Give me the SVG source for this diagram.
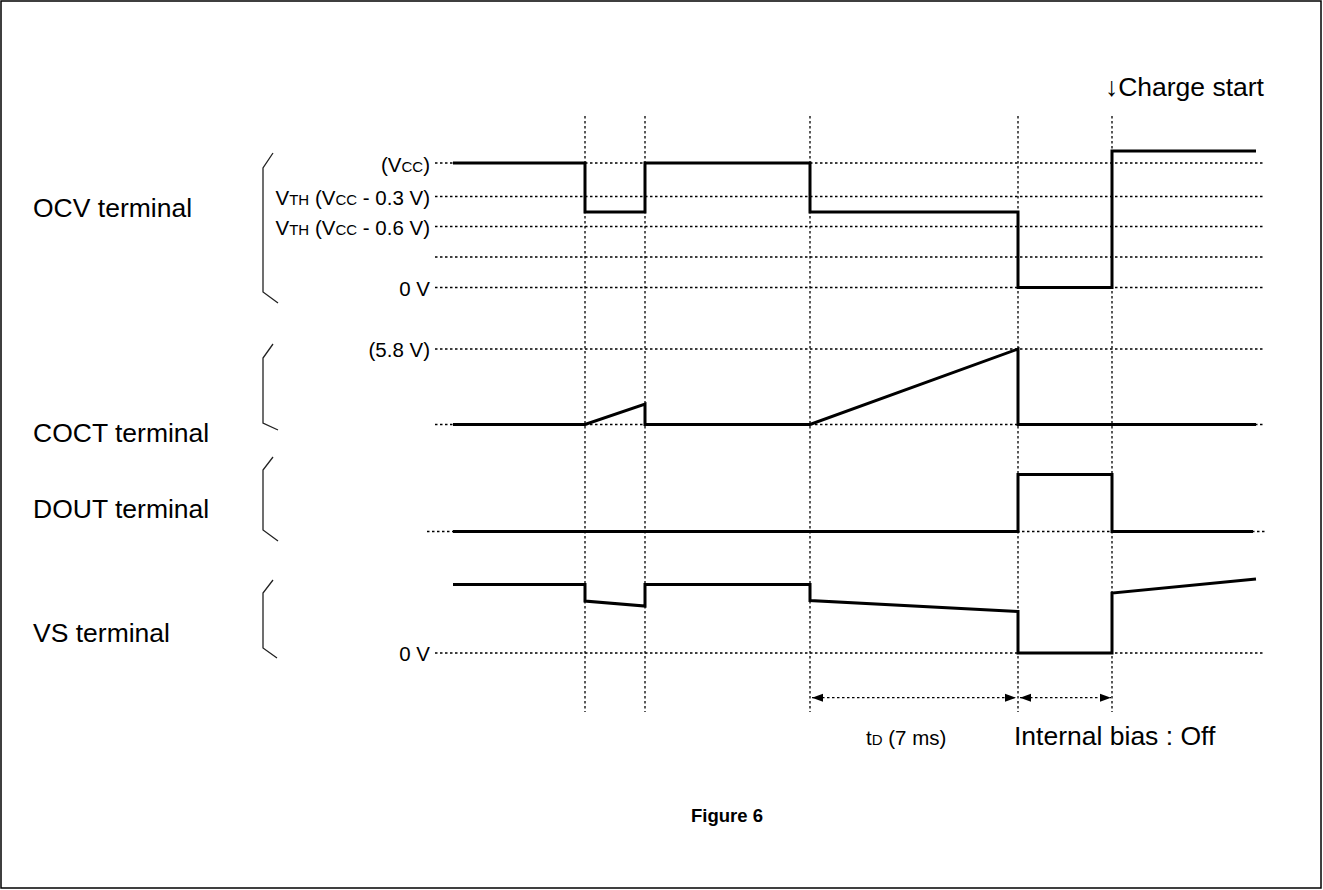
<svg xmlns="http://www.w3.org/2000/svg" width="1323" height="890" viewBox="0 0 1323 890">
<style>
.frame{fill:#fff;stroke:#000;stroke-width:1.5}
.dot{fill:none;stroke:#000;stroke-width:1.3;stroke-dasharray:2.5 2.5}
.wave{fill:none;stroke:#000;stroke-width:3;stroke-linejoin:miter}
.brk{fill:none;stroke:#222;stroke-width:1.3}
.lbl{font-family:"Liberation Sans",Arial,sans-serif;font-size:26.5px;fill:#000}
.sm{font-family:"Liberation Sans",Arial,sans-serif;font-size:20.5px;fill:#000}
.sub{font-size:15px}
.fig{font-family:"Liberation Sans",Arial,sans-serif;font-size:18.5px;font-weight:bold;fill:#000}
</style>
<defs>
<marker id="ah" markerWidth="12" markerHeight="10" refX="11" refY="5" orient="auto-start-reverse" markerUnits="userSpaceOnUse">
<path d="M0,1 L11,5 L0,9 Z" fill="#000"/>
</marker>
</defs>
<rect class="frame" x="1" y="1" width="1320" height="887"/>

<g id="grid">
<path class="dot" d="M585,116 V712 M645,116 V712 M810,116 V712 M1018,116 V712 M1112,116 V712"/>
<path class="dot" d="M435,163 H1265 M435,196.5 H1265 M435,226.5 H1265 M435,257 H1265 M435,287.5 H1265"/>
<path class="dot" d="M435,349 H1265 M435,424.5 H1265"/>
<path class="dot" d="M427,531.5 H1265"/>
<path class="dot" d="M435,653 H1265"/>
</g>

<g id="ocv">
<text class="lbl" x="33" y="217">OCV terminal</text>
<path class="brk" d="M273,153 L263,168 V292 L278,303"/>
<text class="sm" x="430" y="171.5" text-anchor="end">(V<tspan class="sub">CC</tspan>)</text>
<text class="sm" x="430" y="205" text-anchor="end">V<tspan class="sub">TH</tspan> (V<tspan class="sub">CC</tspan> - 0.3 V)</text>
<text class="sm" x="430" y="235" text-anchor="end">V<tspan class="sub">TH</tspan> (V<tspan class="sub">CC</tspan> - 0.6 V)</text>
<text class="sm" x="430" y="295.5" text-anchor="end">0 V</text>
<path class="wave" d="M453,163 H585 V212 H645 V163 H810 V212 H1018 V287.5 H1112 V151 H1256"/>
</g>

<g id="coct">
<text class="lbl" x="33" y="442">COCT terminal</text>
<path class="brk" d="M273,344 L263,358 V423 L278,430"/>
<text class="sm" x="430" y="357" text-anchor="end">(5.8 V)</text>
<path class="wave" d="M453,424.5 H585 L645,404 V424.5 H810 L1018,349 V424.5 H1256"/>
</g>

<g id="dout">
<text class="lbl" x="33" y="518">DOUT terminal</text>
<path class="brk" d="M273,457 L263,470 V530 L278,541"/>
<path class="wave" d="M453,531.5 H1018 V474.5 H1112 V531.5 H1253"/>
</g>

<g id="vs">
<text class="lbl" x="33" y="642">VS terminal</text>
<path class="brk" d="M273,580 L263,593 V648 L277,658"/>
<text class="sm" x="430" y="661" text-anchor="end">0 V</text>
<path class="wave" d="M453,584.5 H585 V601 L645,606 V584.5 H810 V600.5 L1018,611.5 V653 H1112 V593 L1256,579"/>
</g>

<g id="connectors">
<line class="dot" x1="812" y1="697.7" x2="1016" y2="697.7" marker-start="url(#ah)" marker-end="url(#ah)"/>
<line class="dot" x1="1020" y1="697.7" x2="1111" y2="697.7" marker-start="url(#ah)" marker-end="url(#ah)"/>
</g>

<g id="labels">
<text class="lbl" x="1264" y="96" text-anchor="end">↓Charge start</text>
<text class="sm" x="866" y="745">t<tspan class="sub">D</tspan> (7 ms)</text>
<text class="lbl" x="1014" y="745">Internal bias : Off</text>
<text class="fig" x="727" y="822" text-anchor="middle">Figure 6</text>
</g>
</svg>
